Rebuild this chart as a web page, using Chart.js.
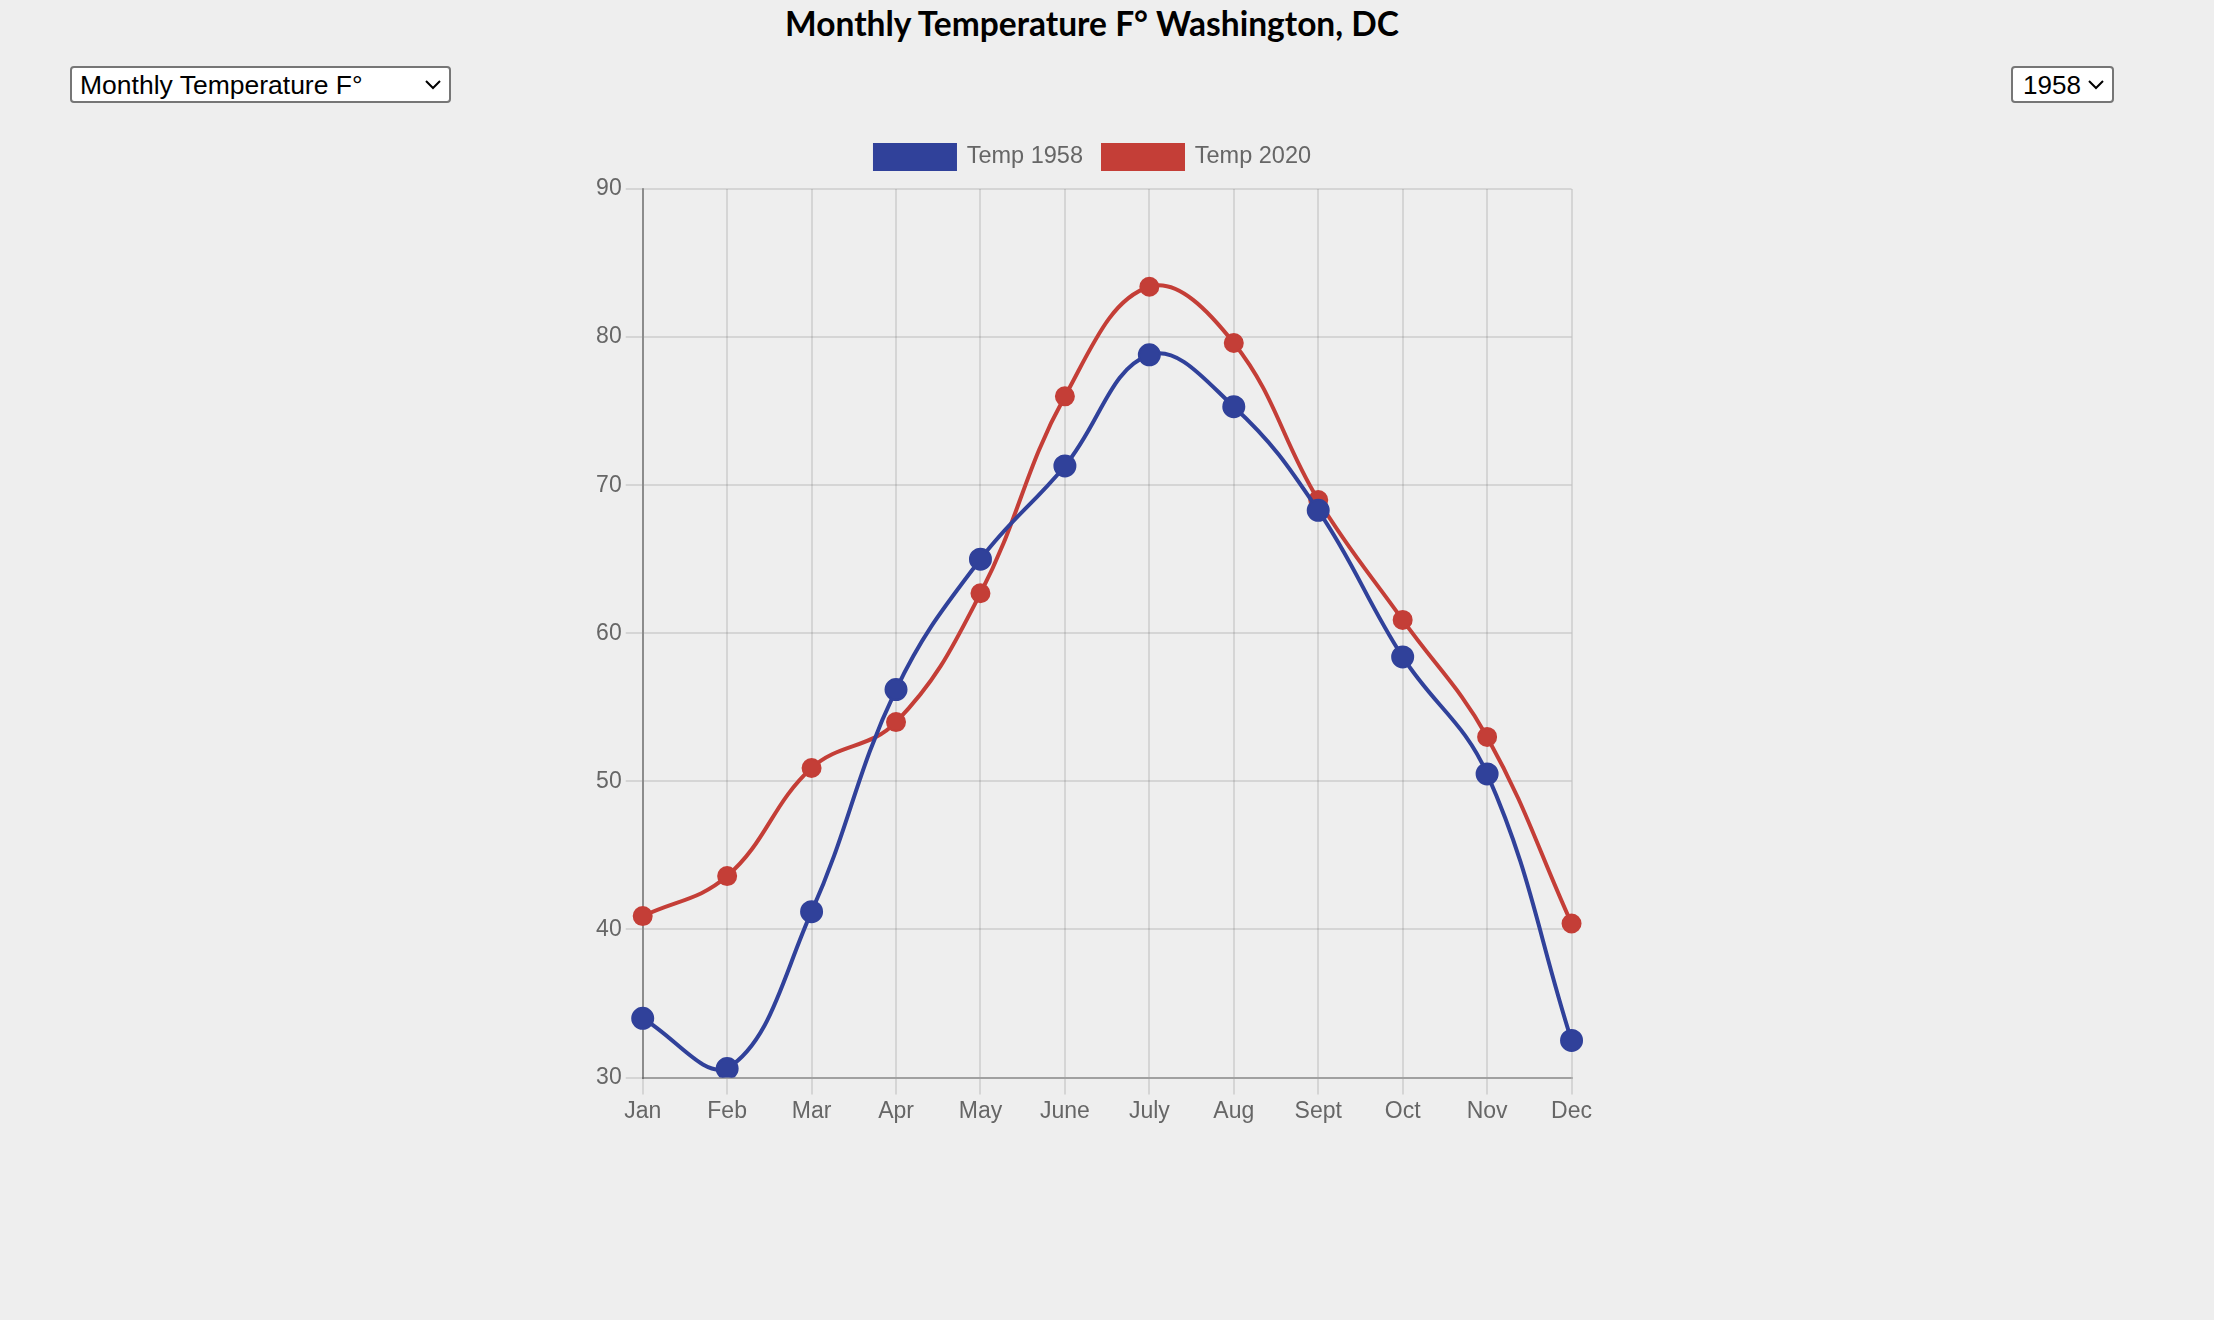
<!DOCTYPE html>
<html>
<head>
<meta charset="utf-8">
<title>Monthly Temperature F° Washington, DC</title>
<script src="https://cdn.jsdelivr.net/npm/chart.js@4.4.0/dist/chart.umd.min.js"></script>
<style>
  html, body { margin: 0; padding: 0; background: #eeeeee; }
  body { width: 2214px; height: 1320px; position: relative; overflow: hidden; }
  #title {
    position: absolute; left: 0; top: 3px; width: 2184px; text-align: center;
    font-family: Lato, "Open Sans", sans-serif; font-weight: 700; font-size: 33.5px; color: #000;
  }
  select {
    position: absolute; top: 66px; height: 37px; box-sizing: border-box;
    -webkit-appearance: none; appearance: none;
    background: #fff url("data:image/svg+xml;utf8,<svg xmlns='http://www.w3.org/2000/svg' width='16' height='10'><path d='M1 1 L8 8 L15 1' fill='none' stroke='black' stroke-width='2'/></svg>") no-repeat right 8px center;
    border: 2px solid #767676; border-radius: 4px;
    font-family: "Liberation Sans", Arial, sans-serif; color: #000;
    padding: 0 0 0 8px; margin: 0;
  }
  #metric { left: 70px; width: 381px; font-size: 26.5px; }
  #year { left: 2011px; width: 103px; font-size: 26px; padding-left: 10px; }
  #chart { position: absolute; left: 591px; top: 120px; }
</style>
</head>
<body>
<div id="title">Monthly Temperature F° Washington, DC</div>
<select id="metric"><option>Monthly Temperature F°</option></select>
<select id="year"><option>1958</option><option>2020</option></select>
<canvas id="chart" width="1004" height="1020"></canvas>
<script>
const months = ['Jan', 'Feb', 'Mar', 'Apr', 'May', 'June', 'July', 'Aug', 'Sept', 'Oct', 'Nov', 'Dec'];
const temp1958 = [34.0, 30.6, 41.2, 56.2, 65.0, 71.3, 78.8, 75.3, 68.3, 58.4, 50.5, 32.5];
const temp2020 = [40.9, 43.6, 50.9, 54.0, 62.7, 76.0, 83.4, 79.6, 69.0, 60.9, 53.0, 40.4];
const yTicks = [30, 40, 50, 60, 70, 80, 90];

const blue = '#30419a';
const red = '#c43e37';
const tickFont = { family: '"Liberation Sans", Arial, sans-serif', size: 23 };

// a bit more room between the legend and the plot
const legendGap = {
  id: 'legendGap',
  beforeInit(chart) {
    const fit = chart.legend.fit;
    chart.legend.fit = function () {
      fit.bind(chart.legend)();
      this.height += 10;
    };
  }
};

new Chart(document.getElementById('chart').getContext('2d'), {
  type: 'line',
  data: {
    labels: months,
    datasets: [
      { label: 'Temp 1958', data: temp1958, borderColor: blue, backgroundColor: blue, borderWidth: 4,
        pointRadius: 10.5, pointBorderWidth: 2, pointBackgroundColor: blue, tension: 0.4, fill: false },
      { label: 'Temp 2020', data: temp2020, borderColor: red, backgroundColor: red, borderWidth: 4,
        pointRadius: 9, pointBorderWidth: 2, pointBackgroundColor: red, tension: 0.4, fill: false }
    ]
  },
  plugins: [legendGap],
  options: {
    responsive: false,
    animation: false,
    devicePixelRatio: 1,
    layout: { padding: { top: 5, right: 0, bottom: 0, left: 0 } },
    plugins: {
      legend: {
        position: 'top',
        labels: { boxWidth: 80, boxHeight: 24, padding: 20, color: '#666', font: { family: tickFont.family, size: 23.5 } }
      },
      tooltip: { enabled: false }
    },
    scales: {
      x: {
        grid: { color: 'rgba(0,0,0,0.1)', lineWidth: 2, tickLength: 17 },
        border: { color: 'rgba(0,0,0,0.25)', width: 2 },
        ticks: { color: '#666', font: tickFont, padding: 3, maxRotation: 0 },
        afterFit: s => { s.height = 62.5; }
      },
      y: {
        min: yTicks[0], max: yTicks[yTicks.length - 1],
        afterBuildTicks: s => { s.ticks = yTicks.map(v => ({ value: v })); },
        grid: { color: 'rgba(0,0,0,0.1)', lineWidth: 2, tickLength: 17 },
        border: { color: 'rgba(0,0,0,0.35)', width: 2 },
        ticks: { color: '#666', font: tickFont, padding: 4 },
        afterFit: s => { s.width = 51.7; }
      }
    }
  }
});
</script>
</body>
</html>
